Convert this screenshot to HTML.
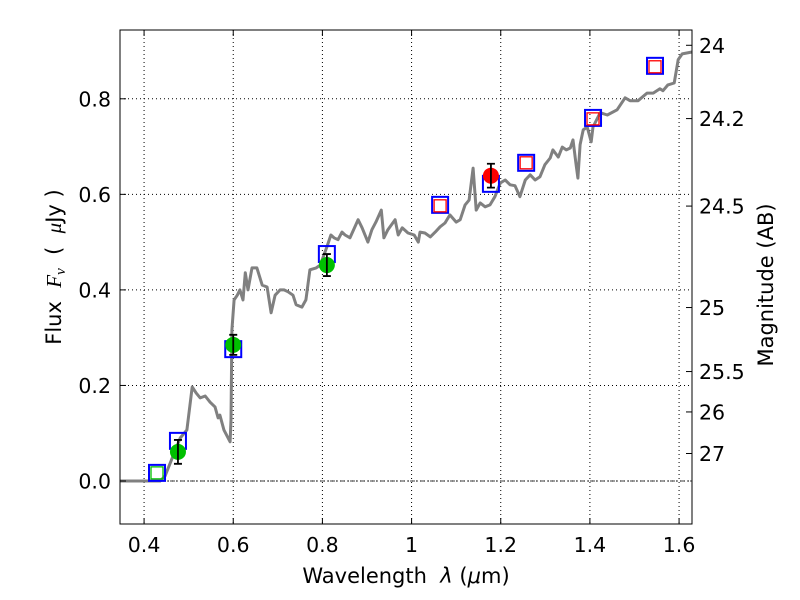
<!DOCTYPE html>
<html><head><meta charset="utf-8"><style>
body{margin:0;background:#fff;}
svg{display:block;font-family:"DejaVu Sans","Liberation Sans",sans-serif;}
</style></head><body>
<svg id="chart" width="800" height="600" viewBox="0 0 800 600" xmlns="http://www.w3.org/2000/svg"></svg>
<script>
const xTicks=[0.4,0.6,0.8,1.0,1.2,1.4,1.6];
const xTickLabels=["0.4","0.6","0.8","1","1.2","1.4","1.6"];
const yTicks=[0.0,0.2,0.4,0.6,0.8];
const yTickLabels=["0.0","0.2","0.4","0.6","0.8"];
const magTicks=[24,24.2,24.5,25,25.5,26,27];
const magTickLabels=["24","24.2","24.5","25","25.5","26","27"];
const specWave=[0.346,0.436,0.447,0.463,0.481,0.496,0.508,0.517,0.526,0.537,0.548,0.559,0.566,0.570,0.579,0.593,0.595,0.597,0.602,0.609,0.615,0.622,0.627,0.633,0.642,0.653,0.665,0.676,0.685,0.694,0.705,0.714,0.723,0.734,0.741,0.754,0.763,0.772,0.786,0.795,0.810,0.819,0.826,0.835,0.844,0.851,0.862,0.880,0.889,0.902,0.911,0.920,0.932,0.938,0.947,0.963,0.970,0.979,0.992,1.006,1.015,1.019,1.030,1.042,1.053,1.064,1.075,1.086,1.100,1.109,1.120,1.129,1.138,1.145,1.154,1.165,1.176,1.187,1.199,1.210,1.221,1.232,1.243,1.255,1.266,1.277,1.288,1.299,1.311,1.317,1.329,1.338,1.347,1.356,1.362,1.369,1.373,1.378,1.385,1.394,1.403,1.407,1.423,1.439,1.461,1.479,1.490,1.508,1.528,1.542,1.557,1.564,1.575,1.589,1.598,1.607,1.629];
const specFlux=[0,0,0.010,0.048,0.090,0.107,0.197,0.184,0.174,0.178,0.165,0.155,0.132,0.138,0.107,0.082,0.128,0.316,0.379,0.389,0.400,0.379,0.436,0.400,0.446,0.446,0.410,0.406,0.352,0.389,0.400,0.400,0.396,0.389,0.369,0.364,0.379,0.442,0.446,0.452,0.490,0.515,0.509,0.505,0.521,0.515,0.509,0.547,0.530,0.500,0.526,0.542,0.567,0.509,0.526,0.547,0.515,0.530,0.519,0.515,0.500,0.521,0.519,0.511,0.521,0.532,0.540,0.557,0.542,0.547,0.578,0.588,0.655,0.567,0.582,0.574,0.578,0.595,0.624,0.630,0.620,0.618,0.595,0.630,0.641,0.630,0.637,0.662,0.676,0.693,0.678,0.699,0.693,0.697,0.714,0.662,0.634,0.704,0.735,0.741,0.710,0.741,0.771,0.766,0.777,0.802,0.796,0.796,0.812,0.812,0.821,0.817,0.829,0.833,0.882,0.894,0.898];
const modelWave=[0.429,0.476,0.600,0.810,1.064,1.178,1.257,1.407,1.546];
const modelFlux=[0.017,0.084,0.276,0.475,0.578,0.622,0.666,0.760,0.869];
const predWave=[1.064,1.257,1.407,1.546];
const predFlux=[0.576,0.666,0.758,0.867];
const greenSqWave=[0.429];
const greenSqFlux=[0.017];
const detWave=[0.476,0.600,0.810];
const detFlux=[0.061,0.285,0.452];
const detErr=[0.025,0.021,0.023];
const irWave=[1.178];
const irFlux=[0.639];
const irErr=[0.025];

const L=120,R=692,T=30,B=524;
const X0=0.346,X1=1.629,Y0=-0.090,Y1=0.944;
const sx=v=>L+(v-X0)/(X1-X0)*(R-L);
const sy=v=>B-(v-Y0)/(Y1-Y0)*(B-T);
const magToFlux=m=>Math.pow(10,(23.9-m)/2.5);
const svg=document.getElementById('chart');
const NS='http://www.w3.org/2000/svg';
function mk(tag,attrs,parent){const e=document.createElementNS(NS,tag);for(const k in attrs)e.setAttribute(k,attrs[k]);(parent||svg).appendChild(e);return e;}

xTicks.forEach((t,i)=>{
  const g=mk('line',{x1:sx(t),x2:sx(t),y1:T,y2:B,stroke:'#000','stroke-width':1,'stroke-dasharray':'1,3'});
  
  
});
yTicks.forEach((t,i)=>{
  const g=mk('line',{x1:L,x2:R,y1:sy(t),y2:sy(t),stroke:'#000','stroke-width':1,'stroke-dasharray':'1,3'});
  
  
});
const z=mk('line',{x1:L,x2:R,y1:sy(0),y2:sy(0),stroke:'#000','stroke-width':0.8,'stroke-dasharray':'5,2,1,2'});



let d='';specWave.forEach((w,i)=>{d+=(i?'L':'M')+sx(w).toFixed(1)+','+sy(specFlux[i]).toFixed(1);});
const sp=mk('path',{d:d,fill:'none',stroke:'#808080','stroke-width':3,'stroke-linejoin':'round'});



modelWave.forEach((w,i)=>{
  const r=mk('rect',{x:sx(w)-8,y:sy(modelFlux[i])-8,width:16,height:16,fill:'none',stroke:'#0000ff','stroke-width':2});
  
  
});
predWave.forEach((w,i)=>{
  const r=mk('rect',{x:sx(w)-6,y:sy(predFlux[i])-6,width:12,height:12,fill:'none',stroke:'#ff0000','stroke-width':1.3});
  
  
});
greenSqWave.forEach((w,i)=>{
  const r=mk('rect',{x:sx(w)-6,y:sy(greenSqFlux[i])-6,width:12,height:12,fill:'none',stroke:'#00c000','stroke-width':1.3});
  
  
});
function errPts(ws,fs,es,color,name){
  ws.forEach((w,i)=>{
    const c=mk('circle',{cx:sx(w),cy:sy(fs[i]),r:8,fill:color});
    
    
    const x=sx(w),y1=sy(fs[i]-es[i]),y2=sy(fs[i]+es[i]);
    const e=mk('path',{d:`M${x},${y1}L${x},${y2}M${x-4},${y1}L${x+4},${y1}M${x-4},${y2}L${x+4},${y2}`,stroke:'#000','stroke-width':1.8,fill:'none'});
    
    
  });
}
errPts(detWave,detFlux,detErr,'#00c000','observed-flux-point');
errPts(irWave,irFlux,irErr,'#ff0000','ir-flux-point');

const fr=mk('rect',{x:L,y:T,width:R-L,height:B-T,fill:'none',stroke:'#000','stroke-width':1});



xTicks.forEach((t,i)=>{
  const x=sx(t);
  mk('line',{x1:x,x2:x,y1:B,y2:B-6,stroke:'#000'});
  mk('line',{x1:x,x2:x,y1:T,y2:T+6,stroke:'#000'});
  const tx=mk('text',{x:x,y:B+28,'font-size':20.5,'text-anchor':'middle'});
  tx.textContent=xTickLabels[i];
  
  
});
yTicks.forEach((t,i)=>{
  const y=sy(t);
  mk('line',{x1:L,x2:L+6,y1:y,y2:y,stroke:'#000'});
  const tx=mk('text',{x:L-9,y:y+7.5,'font-size':20.5,'text-anchor':'end'});
  tx.textContent=yTickLabels[i];
  
  
});
magTicks.forEach((m,i)=>{
  const y=sy(magToFlux(m));
  mk('line',{x1:R,x2:R-6,y1:y,y2:y,stroke:'#000'});
  const tx=mk('text',{x:R+7,y:y+7.5,'font-size':20.5,'text-anchor':'start'});
  tx.textContent=magTickLabels[i];
  
  
});
</script>
<svg style="position:absolute;left:0;top:0" width="800" height="600">
<text x="406" y="583" font-size="21" text-anchor="middle" font-family="DejaVu Sans, sans-serif" xml:space="preserve">Wavelength  <tspan font-style="italic">λ</tspan> (<tspan font-style="italic">μ</tspan>m)</text>
<text transform="translate(61,267) rotate(-90)" font-size="21" text-anchor="middle" font-family="DejaVu Sans, sans-serif" xml:space="preserve">Flux  <tspan font-family="Liberation Serif, serif" font-style="italic">F<tspan font-size="15" dy="4">ν</tspan></tspan><tspan dy="-4">  (  </tspan><tspan font-family="Liberation Serif, serif" font-style="italic">μ</tspan>Jy )</text>
<text transform="translate(773,285) rotate(-90)" font-size="21" text-anchor="middle" font-family="DejaVu Sans, sans-serif">Magnitude (AB)</text>
</svg>
</body></html>
